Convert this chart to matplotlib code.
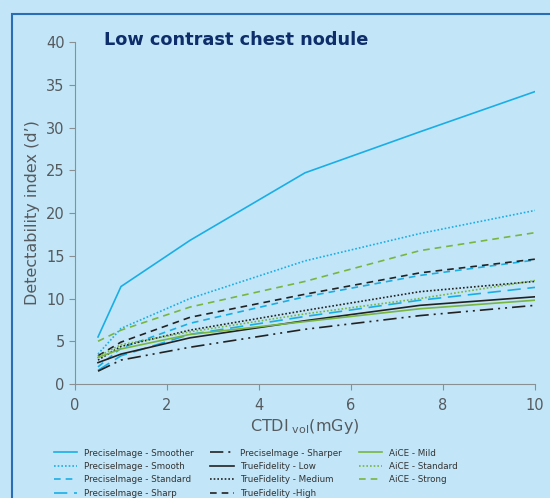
import matplotlib.pyplot as plt
from matplotlib.patches import Rectangle
import numpy as np

# dose levels (CTDIvol, mGy)
dose = [0.5, 1, 2.5, 5, 7.5, 10]

pi_smoother = [5.5, 11.4, 16.8, 24.7, 29.5, 34.2]
pi_smooth = [3.5, 6.5, 10.0, 14.4, 17.6, 20.3]
pi_standard = [2.0, 4.2, 7.1, 10.2, 12.7, 14.5]
pi_sharp = [1.6, 3.3, 5.8, 7.9, 9.8, 11.3]
pi_sharper = [1.5, 2.8, 4.3, 6.4, 8.0, 9.2]
tf_low = [2.5, 3.5, 5.4, 7.4, 9.2, 10.2]
tf_medium = [2.8, 4.4, 6.3, 8.6, 10.8, 12.0]
tf_high = [3.3, 4.9, 7.8, 10.5, 13.0, 14.6]
aice_mild = [3.1, 4.1, 5.8, 7.3, 8.8, 9.8]
aice_standard = [3.2, 4.6, 6.1, 8.2, 10.0, 12.1]
aice_strong = [5.0, 6.3, 9.0, 12.0, 15.6, 17.7]

cyan = '#1aaee6'
black = '#222222'
green = '#78b541'

series = [
    ('PreciseImage - Smoother', pi_smoother, cyan, '-'),
    ('PreciseImage - Smooth', pi_smooth, cyan, (0, (1, 1.2))),
    ('PreciseImage - Standard', pi_standard, cyan, (0, (4, 3))),
    ('PreciseImage - Sharp', pi_sharp, cyan, (0, (8, 4))),
    ('PreciseImage - Sharper', pi_sharper, black, (0, (8, 3, 1.2, 3, 1.2, 3))),
    ('TrueFidelity - Low', tf_low, black, '-'),
    ('TrueFidelity - Medium', tf_medium, black, (0, (1, 1.2))),
    ('TrueFidelity -High', tf_high, black, (0, (4, 3))),
    ('AiCE - Mild', aice_mild, green, '-'),
    ('AiCE - Standard', aice_standard, green, (0, (1, 1.2))),
    ('AiCE - Strong', aice_strong, green, (0, (4, 3))),
]

fig = plt.figure(figsize=(5.5, 4.98), dpi=100)
fig.patch.set_facecolor('#c2e6f8')
fig.patches.append(Rectangle((12 / 550, -0.05), 1.0, 1 - 14 / 498 + 0.05,
                             transform=fig.transFigure, fill=False,
                             edgecolor='#2a6db5', linewidth=1.5))

ax = fig.add_axes([75 / 550, 1 - 384 / 498, 460 / 550, 342 / 498])
ax.set_facecolor('none')

for name, vals, col, ls in series:
    ax.plot(dose, vals, color=col, linestyle=ls, linewidth=1.2, label=name)

ax.set_xlim(0, 10)
ax.set_ylim(0, 40)
ax.set_xticks(np.arange(0, 11, 2))
ax.set_yticks(np.arange(0, 41, 5))
for s in ['top', 'right']:
    ax.spines[s].set_visible(False)
for s in ['left', 'bottom']:
    ax.spines[s].set_color('#8a8f94')
ax.tick_params(colors='#8a8f94', labelcolor='#555a5f', labelsize=10.5, direction='out', length=4)
ax.tick_params(axis='x', pad=6)

ax.set_ylabel('Detectability index (d\u2019)', fontsize=11.5, color='#555a5f')
ax.set_xlabel('CTDI$_{\\rm\\ vol}$(mGy)', fontsize=11.5, color='#555a5f', labelpad=3)

fig.text(104 / 550, 1 - 40 / 498, 'Low contrast chest nodule', fontsize=12.8,
         fontweight='bold', color='#0d2d6b', va='center')

leg = fig.legend(loc='upper left', bbox_to_anchor=(50 / 550, 1 - 445 / 498), ncol=3,
                 fontsize=6.3, frameon=False, handlelength=2.7, handletextpad=0.75,
                 columnspacing=1.9, labelspacing=0.5, borderaxespad=0)
for t in leg.get_texts():
    t.set_color('#333333')

fig.savefig('out.png', dpi=100, facecolor=fig.get_facecolor())
